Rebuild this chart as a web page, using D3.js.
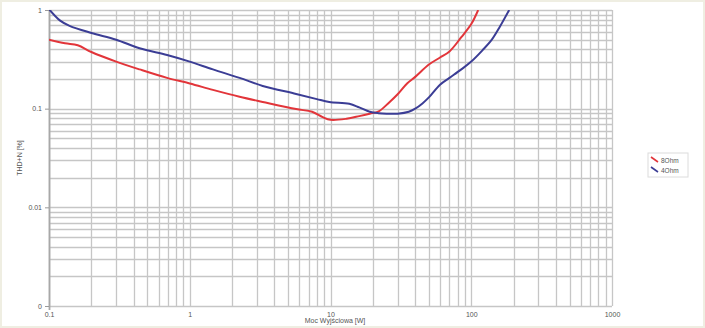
<!DOCTYPE html>
<html>
<head>
<meta charset="utf-8">
<script src="https://cdn.jsdelivr.net/npm/d3@7"></script>
<style>
  body { margin: 0; background: #fdfdfb; }
  text { font-family: "Liberation Sans", Arial, sans-serif; }
</style>
</head>
<body>
<div id="chart"></div>
<script>
// THD+N vs output power, log-log
var xTickVals = [0.1, 1, 10, 100, 1000];
var xTickLabels = ["0.1", "1", "10", "100", "1000"];
var yTickVals = [1, 0.1, 0.01, 0.001];
var yTickLabels = ["1", "0.1", "0.01", "0"];

var seriesNames = ["8Ohm", "4Ohm"];

var power8 = [0.1, 0.13, 0.16, 0.2, 0.3, 0.44, 0.69, 1, 1.46, 2.26, 3.3, 5.7, 7.4, 8.8, 10, 13, 16, 19, 22, 26, 30, 35, 40, 50, 60, 70, 85, 100, 112];
var thd8   = [0.5, 0.46, 0.44, 0.375, 0.30, 0.25, 0.205, 0.18, 0.155, 0.132, 0.117, 0.099, 0.093, 0.082, 0.077, 0.079, 0.084, 0.089, 0.094, 0.115, 0.14, 0.18, 0.21, 0.28, 0.33, 0.38, 0.53, 0.72, 1.0];

var power4 = [0.1, 0.12, 0.14, 0.2, 0.3, 0.44, 0.69, 1, 1.46, 2.26, 3.3, 5.7, 8, 9.8, 13.6, 16, 19, 22, 25, 30, 36, 40, 45, 50, 60, 70, 85, 100, 120, 140, 160, 186];
var thd4   = [1.02, 0.78, 0.69, 0.585, 0.5, 0.41, 0.35, 0.30, 0.25, 0.205, 0.17, 0.141, 0.125, 0.117, 0.112, 0.103, 0.093, 0.09, 0.089, 0.089, 0.093, 0.1, 0.113, 0.13, 0.175, 0.205, 0.25, 0.3, 0.39, 0.5, 0.68, 1.0];

var colors = ["#e2353a", "#3b3d95"];

var width = 705, height = 328;
var plotLeft = 49, plotRight = 612, plotTop = 10, plotBottom = 306;

var svg = d3.select("#chart").append("svg")
  .attr("width", width)
  .attr("height", height);

svg.append("rect")
  .attr("x", 0.5).attr("y", 0.5)
  .attr("width", width - 1).attr("height", height - 1)
  .attr("fill", "#ffffff")
  .attr("stroke", "#efeee2")
  .attr("stroke-width", 3);

var x = d3.scaleLog().domain([0.1, 1000]).range([plotLeft, plotRight]);
var y = d3.scaleLog().domain([0.001, 1]).range([plotBottom, plotTop]);

// minor + major gridlines
var xGrid = [], yGrid = [];
[0.1, 1, 10, 100].forEach(function(d) {
  for (var i = 1; i < 10; i++) xGrid.push(d * i);
});
xGrid.push(1000);
[0.001, 0.01, 0.1].forEach(function(d) {
  for (var i = 1; i < 10; i++) yGrid.push(d * i);
});
yGrid.push(1);

var grid = svg.append("g").attr("class", "grid");
grid.selectAll("line.v")
  .data(xGrid)
  .enter().append("line")
  .attr("class", "v")
  .attr("x1", function(d) { return Math.round(x(d)) + 0.5; })
  .attr("x2", function(d) { return Math.round(x(d)) + 0.5; })
  .attr("y1", plotTop).attr("y2", plotBottom)
  .attr("stroke", "#c6c6c6")
  .attr("stroke-width", 1.3);

grid.selectAll("line.h")
  .data(yGrid)
  .enter().append("line")
  .attr("class", "h")
  .attr("x1", plotLeft).attr("x2", plotRight)
  .attr("y1", function(d) { return Math.round(y(d)) + 0.5; })
  .attr("y2", function(d) { return Math.round(y(d)) + 0.5; })
  .attr("stroke", "#c6c6c6")
  .attr("stroke-width", 1.3);

// left axis line
svg.append("line")
  .attr("x1", plotLeft + 0.5).attr("x2", plotLeft + 0.5)
  .attr("y1", plotTop).attr("y2", plotBottom + 4)
  .attr("stroke", "#a8a8a8")
  .attr("stroke-width", 1.8);

var xAxis = d3.axisBottom(x)
  .tickValues(xTickVals)
  .tickSize(0)
  .tickPadding(6)
  .tickFormat(function(d, i) { return xTickLabels[i]; });
var gx = svg.append("g")
  .attr("transform", "translate(0," + plotBottom + ")")
  .call(xAxis);
gx.select(".domain").remove();
gx.selectAll("text").attr("fill", "#555").style("font-size", "7px");

var yAxis = d3.axisLeft(y)
  .tickValues(yTickVals)
  .tickSize(4)
  .tickPadding(3)
  .tickFormat(function(d, i) { return yTickLabels[i]; });
var gy = svg.append("g")
  .attr("transform", "translate(" + plotLeft + ",0)")
  .call(yAxis);
gy.select(".domain").remove();
gy.selectAll("line").attr("stroke", "#999");
gy.selectAll("text").attr("fill", "#555").style("font-size", "7px");

// axis titles
svg.append("text")
  .attr("x", 335).attr("y", 323)
  .attr("text-anchor", "middle")
  .attr("fill", "#555")
  .style("font-size", "7px")
  .text("Moc Wyjściowa [W]");

svg.append("text")
  .attr("transform", "translate(22,158) rotate(-90)")
  .attr("text-anchor", "middle")
  .attr("fill", "#555")
  .style("font-size", "7px")
  .text("THD+N [%]");

// curves
svg.append("clipPath").attr("id", "clip")
  .append("rect")
  .attr("x", plotLeft).attr("y", plotTop)
  .attr("width", plotRight - plotLeft).attr("height", plotBottom - plotTop);

var line = d3.line()
  .x(function(d) { return x(d[0]); })
  .y(function(d) { return y(d[1]); })
  .curve(d3.curveCatmullRom.alpha(0.5));

var series = [d3.zip(power8, thd8), d3.zip(power4, thd4)];

svg.append("g").attr("clip-path", "url(#clip)")
  .selectAll("path")
  .data(series)
  .enter().append("path")
  .attr("d", line)
  .attr("fill", "none")
  .attr("stroke", function(d, i) { return colors[i]; })
  .attr("stroke-width", 2);

// legend
var legend = svg.append("g").attr("transform", "translate(648,153)");
legend.append("rect")
  .attr("width", 40).attr("height", 24)
  .attr("fill", "#fff")
  .attr("stroke", "#dcdcdc");
var items = legend.selectAll("g.item")
  .data(seriesNames)
  .enter().append("g")
  .attr("class", "item")
  .attr("transform", function(d, i) { return "translate(3," + (4 + i * 10) + ")"; });
items.append("line")
  .attr("x1", 0).attr("y1", 0).attr("x2", 7).attr("y2", 5)
  .attr("stroke", function(d, i) { return colors[i]; })
  .attr("stroke-width", 1.6);
items.append("text")
  .attr("x", 10).attr("y", 5.5)
  .attr("fill", "#555")
  .style("font-size", "6.5px")
  .text(function(d) { return d; });
</script>
</body>
</html>
